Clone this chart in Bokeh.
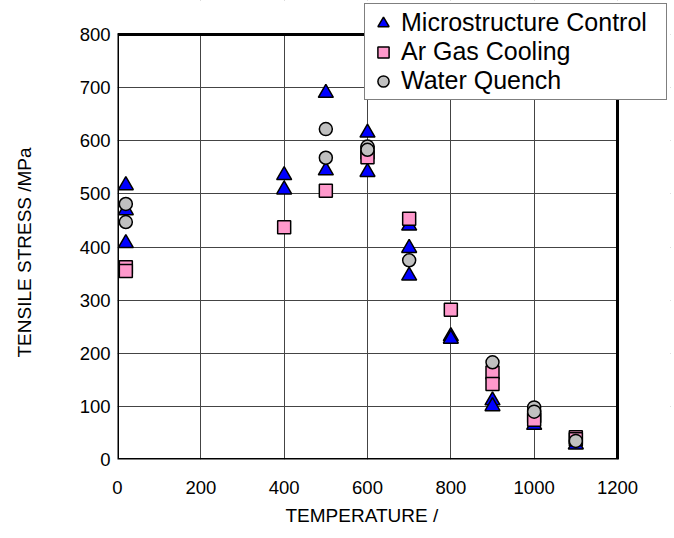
from bokeh.plotting import figure
from bokeh.models import Range1d, FixedTicker, Legend, LegendItem, BoxAnnotation, Title
from bokeh.embed import file_html
from bokeh.resources import INLINE

# Data
tri_x = [20, 20, 20, 400, 400, 500, 500, 600, 600, 700, 700, 700, 800, 800, 900, 900, 1000, 1100]
tri_y = [516, 469, 407, 535, 508, 690, 544, 615, 541, 440, 398, 346, 232, 227, 111, 100, 65, 28]

sq_x = [20, 20, 400, 500, 600, 600, 700, 800, 900, 900, 1000, 1000, 1100, 1100]
sq_y = [362, 355, 437, 506, 578, 569, 453, 282, 164, 142, 82, 75, 42, 38]

circ_x = [20, 20, 500, 500, 600, 600, 700, 900, 1000, 1000, 1100]
circ_y = [481, 447, 622, 568, 589, 583, 375, 183, 98, 90, 35]

series_names = ["Microstructure Control", "Ar Gas Cooling", "Water Quench"]
x_ticks = [0, 200, 400, 600, 800, 1000, 1200]
y_ticks = [0, 100, 200, 300, 400, 500, 600, 700, 800]
x_min, x_max = 0, 1200
y_min, y_max = 0, 800
x_label = "TEMPERATURE /"
y_label = "TENSILE STRESS /MPa"

FONT = "Liberation Sans"

# frame is extended up/right so the legend can overlap the plot border;
# the visible plot area (0..1200, 0..800) is drawn with a box annotation
FRAME_W, FRAME_H = 553, 459
PLOT_W, PLOT_H = 500, 425
xr_end = x_max * FRAME_W / PLOT_W
yr_end = y_max * FRAME_H / PLOT_H

p = figure(width=674, height=538, output_backend="svg", toolbar_location=None,
           x_range=Range1d(x_min, xr_end), y_range=Range1d(y_min, yr_end),
           min_border_left=117, min_border_right=674 - 117 - FRAME_W,
           min_border_top=0, min_border_bottom=538 - FRAME_H)

p.background_fill_color = "white"
p.border_fill_color = "white"
p.outline_line_color = None

for ax in (p.xaxis[0], p.yaxis[0]):
    ax.axis_line_color = None
    ax.major_tick_line_color = None
    ax.minor_tick_line_color = None
    ax.major_tick_out = 0
    ax.major_tick_in = 0
    ax.minor_tick_out = 0
    ax.minor_tick_in = 0
    ax.major_label_text_font = FONT
    ax.major_label_text_font_size = "18.5px"
    ax.major_label_text_color = "black"
    ax.axis_label_text_font = FONT
    ax.axis_label_text_font_size = "19px"
    ax.axis_label_text_font_style = "normal"
    ax.axis_label_text_color = "black"

p.xaxis.ticker = FixedTicker(ticks=x_ticks)
p.yaxis.ticker = FixedTicker(ticks=y_ticks)
p.xaxis.major_label_standoff = 21
p.yaxis.major_label_standoff = 7
# blank axis label on y acts as a spacer between tick labels and the title
p.yaxis.axis_label = " "
p.yaxis.axis_label_standoff = 17

# axis titles placed along the plot area (not the extended frame)
x_title = Title(text=x_label, align="left", offset=168, vertical_align="top",
                standoff=16, text_font=FONT, text_font_size="19px",
                text_font_style="normal", text_color="black")
y_title = Title(text=y_label, align="left", offset=102, vertical_align="bottom",
                standoff=2, text_font=FONT, text_font_size="19px",
                text_font_style="normal", text_color="black")
p.add_layout(x_title, "below")
p.add_layout(y_title, "left")

p.grid.grid_line_color = "#444444"
p.grid.grid_line_width = 1
p.xgrid.ticker = FixedTicker(ticks=x_ticks)
p.ygrid.ticker = FixedTicker(ticks=y_ticks)

r_tri = p.scatter(tri_x, tri_y, marker="triangle", size=15, fill_color="#0000FF",
                  line_color="black", line_width=1.5)
r_sq = p.scatter(sq_x, sq_y, marker="square", size=13, fill_color="#FF99CC",
                 line_color="black", line_width=1.5)
r_circ = p.scatter(circ_x, circ_y, marker="circle", size=13, fill_color="#C0C0C0",
                   line_color="black", line_width=1.5)

# white masks outside the plot area (hide grid lines beyond 800 / 1200)
p.add_layout(BoxAnnotation(bottom=y_max, fill_color="white", fill_alpha=1.0,
                           line_color=None))
p.add_layout(BoxAnnotation(left=x_max, fill_color="white", fill_alpha=1.0,
                           line_color=None))
# thick plot-area border
p.add_layout(BoxAnnotation(left=x_min, right=x_max, bottom=y_min, top=y_max,
                           fill_alpha=0.0, line_color="black", line_width=3,
                           line_alpha=1.0))

legend = Legend(items=[LegendItem(label=series_names[0], renderers=[r_tri]),
                       LegendItem(label=series_names[1], renderers=[r_sq]),
                       LegendItem(label=series_names[2], renderers=[r_circ])],
                location=(247, 359))
legend.label_text_font = FONT
legend.label_text_font_size = "25px"
legend.label_text_color = "black"
legend.label_height = 28
legend.label_width = 261
legend.glyph_height = 28
legend.glyph_width = 28
legend.label_standoff = 4
legend.spacing = 0
legend.padding = 4
legend.margin = 0
legend.border_line_color = "black"
legend.border_line_width = 1
legend.background_fill_color = "white"
legend.background_fill_alpha = 1.0
p.add_layout(legend, "center")

open("out.html", "w").write(file_html(p, INLINE))
